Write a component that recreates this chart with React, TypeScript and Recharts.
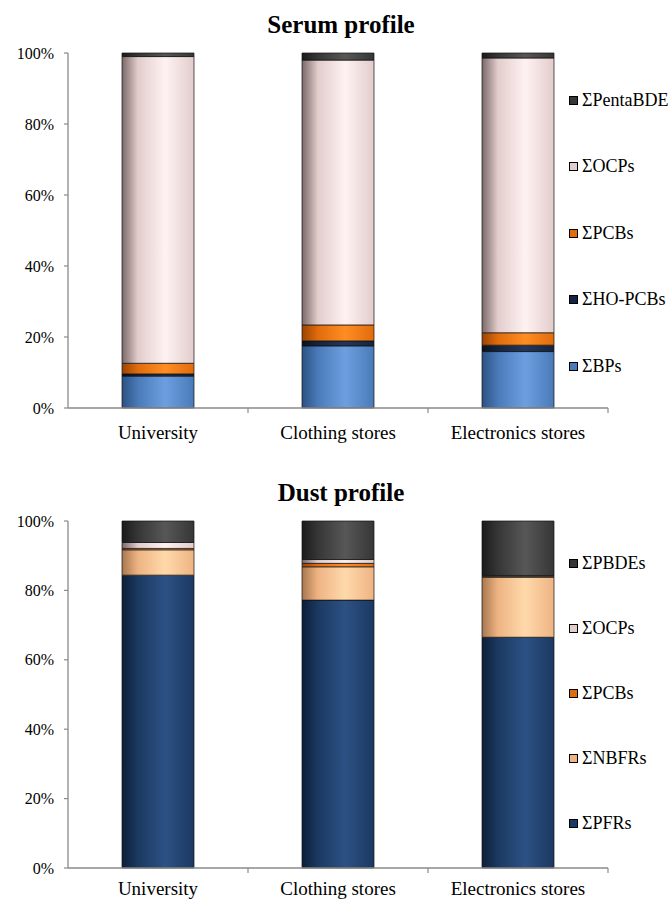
import { BarChart, Bar, XAxis, YAxis } from "recharts";

const CATEGORIES = ["University", "Clothing stores", "Electronics stores"];
const PCT_TICKS = [0, 20, 40, 60, 80, 100];

// serum profile (% of total)
const SERUM_BPS = [9.0, 17.5, 15.9];
const SERUM_HOPCBS = [0.6, 1.4, 1.8];
const SERUM_PCBS = [3.0, 4.5, 3.5];
const SERUM_OCPS = [86.4, 74.6, 77.4];
const SERUM_PENTABDE = [1.0, 2.0, 1.4];

// dust profile (% of total)
const DUST_PFRS = [84.4, 77.2, 66.5];
const DUST_NBFRS = [7.3, 9.6, 17.3];
const DUST_PCBS = [0.4, 1.0, 0.2];
const DUST_OCPS = [1.7, 1.1, 0.3];
const DUST_PBDES = [6.2, 11.1, 15.7];

const AXIS = "#8a8a8a";

// dark edge, body, highlight
const SHADES: Record<string, [string, string, string]> = {
  bps: ["#2b5182", "#4a7ab8", "#6d9fe0"],
  hopcbs: ["#08111f", "#142440", "#22375a"],
  pcbs: ["#9a4404", "#e06c0c", "#ff8d22"],
  ocps: ["#7a6868", "#e2cccc", "#fff2f2"],
  penta: ["#1a1a1a", "#363636", "#575757"],
  pfrs: ["#0c1e38", "#1b3961", "#2c5184"],
  nbfrs: ["#a8774f", "#eeb383", "#ffd9ab"],
  pbdes: ["#1a1a1a", "#363636", "#575757"],
};

type Series = { key: string; name: string; values: number[] };

const SERUM: Series[] = [
  { key: "bps", name: "ΣBPs", values: SERUM_BPS },
  { key: "hopcbs", name: "ΣHO-PCBs", values: SERUM_HOPCBS },
  { key: "pcbs", name: "ΣPCBs", values: SERUM_PCBS },
  { key: "ocps", name: "ΣOCPs", values: SERUM_OCPS },
  { key: "penta", name: "ΣPentaBDE", values: SERUM_PENTABDE },
];

const DUST: Series[] = [
  { key: "pfrs", name: "ΣPFRs", values: DUST_PFRS },
  { key: "nbfrs", name: "ΣNBFRs", values: DUST_NBFRS },
  { key: "pcbs", name: "ΣPCBs", values: DUST_PCBS },
  { key: "ocps", name: "ΣOCPs", values: DUST_OCPS },
  { key: "pbdes", name: "ΣPBDEs", values: DUST_PBDES },
];

function CategoryTick(props: any) {
  const { x, y, payload, gap } = props;
  const off = payload.offset || 90;
  return (
    <g>
      <line x1={x + off} x2={x + off} y1={y} y2={y + 5} stroke={AXIS} strokeWidth={1.2} />
      <text x={x} y={y + gap} dy="0.71em" textAnchor="middle" fontSize={19} fill="#000">
        {payload.value}
      </text>
    </g>
  );
}

function ProfileChart(props: {
  id: string;
  title: string;
  series: Series[];
  top: number;
  height: number;
  plotTop: number;
  axisH: number;
  labelGap: number;
  titleTop: number;
  legendTop: number;
  legendStep: number;
}) {
  const { id, title, series, top, height, plotTop, axisH, labelGap, titleTop, legendTop, legendStep } = props;
  const rows = CATEGORIES.map((c, i) => {
    const row: Record<string, any> = { name: c };
    series.forEach((s) => (row[s.key] = s.values[i]));
    return row;
  });

  return (
    <>
      <div
        style={{
          position: "absolute",
          top: titleTop,
          left: 0,
          width: 682,
          textAlign: "center",
          fontSize: 25,
          lineHeight: "25px",
          fontWeight: "bold",
        }}
      >
        {title}
      </div>
      <div style={{ position: "absolute", top, left: 0 }}>
        <BarChart
          width={670}
          height={height}
          data={rows}
          margin={{ top: plotTop, right: 62, bottom: 0, left: 0 }}
          barCategoryGap="30%"
        >
          <defs>
            {series.map((s) => {
              const [d, m, l] = SHADES[s.key];
              return (
                <linearGradient key={s.key} id={`${id}-${s.key}`} x1="0" y1="0" x2="1" y2="0">
                  <stop offset="0%" stopColor={d} />
                  <stop offset="22%" stopColor={m} />
                  <stop offset="60%" stopColor={l} />
                  <stop offset="100%" stopColor={m} />
                </linearGradient>
              );
            })}
          </defs>
          <XAxis
            dataKey="name"
            height={axisH}
            tickSize={0}
            tickMargin={0}
            axisLine={{ stroke: AXIS, strokeWidth: 1.3 }}
            tickLine={false}
            interval={0}
            tick={<CategoryTick gap={labelGap} />}
          />
          <YAxis
            width={68}
            domain={[0, 100]}
            ticks={PCT_TICKS}
            tickFormatter={(v) => `${v}%`}
            tickSize={4}
            tickMargin={10}
            axisLine={{ stroke: AXIS, strokeWidth: 1.3 }}
            tickLine={{ stroke: AXIS, strokeWidth: 1.2 }}
            tick={{ fill: "#000", fontSize: 16 }}
          />
          {series.map((s) => (
            <Bar
              key={s.key}
              dataKey={s.key}
              name={s.name}
              stackId="a"
              fill={`url(#${id}-${s.key})`}
              stroke="#111"
              strokeWidth={0.7}
              isAnimationActive={false}
            />
          ))}
        </BarChart>
      </div>
      {[...series].reverse().map((s, i) => (
        <div
          key={s.key}
          style={{
            position: "absolute",
            left: 569,
            top: legendTop + i * legendStep - 11,
            height: 22,
            display: "flex",
            alignItems: "center",
            whiteSpace: "nowrap",
            fontSize: 18,
          }}
        >
          <span
            style={{
              display: "inline-block",
              width: 7,
              height: 7,
              border: "1px solid #000",
              background: SHADES[s.key][1],
              marginRight: 4,
            }}
          />
          {s.name}
        </div>
      ))}
    </>
  );
}

export default function App() {
  return (
    <div
      style={{
        position: "absolute",
        left: 0,
        top: 0,
        width: 670,
        height: 900,
        overflow: "hidden",
        background: "#fff",
        color: "#000",
        fontFamily: '"Liberation Serif", "Times New Roman", serif',
      }}
    >
      <ProfileChart
        id="serum"
        title="Serum profile"
        series={SERUM}
        top={0}
        height={450}
        plotTop={53}
        axisH={42}
        labelGap={18}
        titleTop={12}
        legendTop={100}
        legendStep={66.5}
      />
      <ProfileChart
        id="dust"
        title="Dust profile"
        series={DUST}
        top={465}
        height={435}
        plotTop={56}
        axisH={32}
        labelGap={14}
        titleTop={480}
        legendTop={563}
        legendStep={65}
      />
    </div>
  );
}
